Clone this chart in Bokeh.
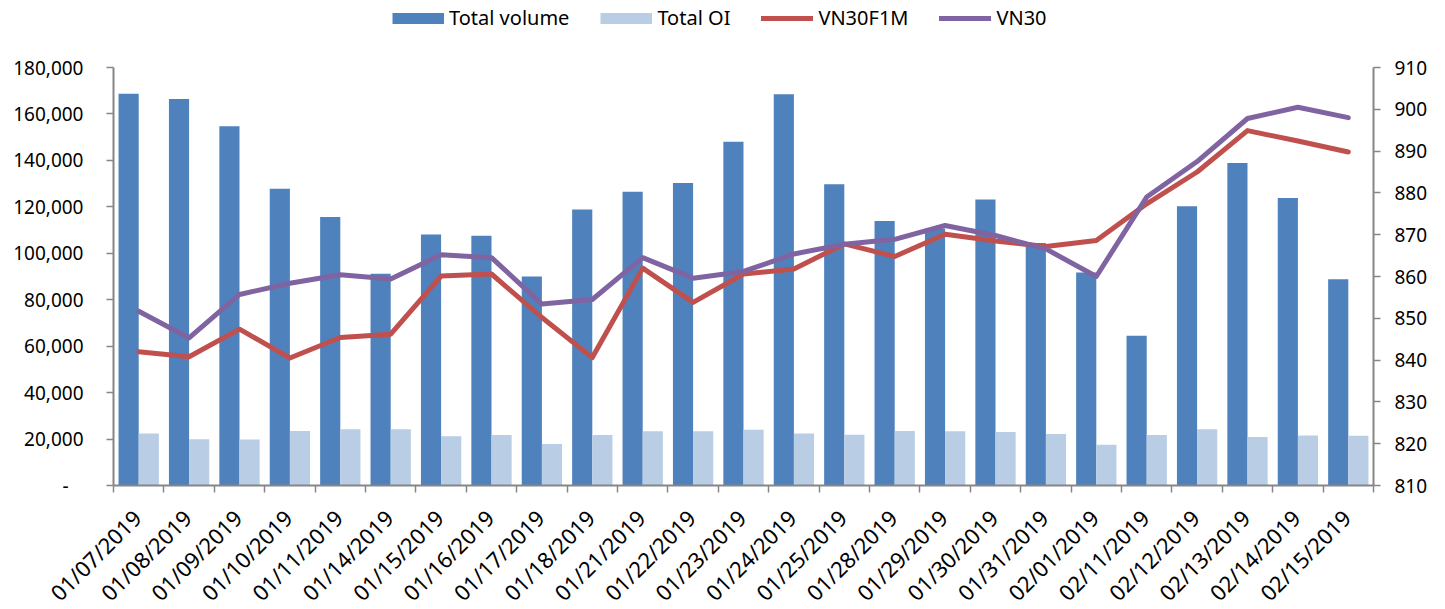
import math
import numpy as np
from bokeh.plotting import figure
from bokeh.models import (Range1d, LinearAxis, FixedTicker, Legend, LegendItem,
                          NumeralTickFormatter, ColumnDataSource)
from bokeh.core.properties import value
from bokeh.embed import file_html
from bokeh.resources import INLINE

dates = ["01/07/2019", "01/08/2019", "01/09/2019", "01/10/2019", "01/11/2019",
         "01/14/2019", "01/15/2019", "01/16/2019", "01/17/2019", "01/18/2019",
         "01/21/2019", "01/22/2019", "01/23/2019", "01/24/2019", "01/25/2019",
         "01/28/2019", "01/29/2019", "01/30/2019", "01/31/2019", "02/01/2019",
         "02/11/2019", "02/12/2019", "02/13/2019", "02/14/2019", "02/15/2019"]
total_volume = [168700, 166400, 154700, 127800, 115600, 91200, 108100, 107600, 90000, 118800,
                126500, 130300, 148000, 168500, 129700, 113900, 110700, 123200, 104400, 91700,
                64500, 120200, 138900, 123800, 88800]
total_oi = [22400, 19900, 19800, 23500, 24200, 24200, 21200, 21800, 17900, 21800,
            23400, 23400, 24000, 22400, 21900, 23500, 23400, 23000, 22200, 17500,
            21800, 24200, 20900, 21500, 21400]
vn30f1m = [842.0, 840.8, 847.4, 840.5, 845.4, 846.2, 860.1, 860.6, 850.2, 840.6,
           862.0, 853.8, 860.6, 861.8, 867.8, 864.8, 870.1, 868.5, 867.2, 868.6,
           877.4, 885.0, 894.9, 892.4, 889.8]
vn30 = [851.7, 845.3, 855.7, 858.4, 860.4, 859.4, 865.2, 864.5, 853.4, 854.5,
        864.5, 859.6, 861.2, 865.4, 867.7, 868.9, 872.2, 869.8, 866.6, 860.0,
        879.0, 887.5, 897.8, 900.5, 898.0]
left_ticks = list(range(0, 180001, 20000))
right_ticks = list(range(810, 911, 10))
left_min, left_max = 0, 180000
right_min, right_max = 810, 910

FONT = "Noto Sans"
AXC = "#868686"
C_VOL, C_OI, C_F, C_V = "#4F81BD", "#B9CDE5", "#C0504D", "#8064A2"

# layout (pixels): frame reaches the top of the canvas so the legend sits inside it;
# the axes are bounded to their data ranges, which fill the lower PLOT_H pixels.
W = 1437
BL, BR = 113, 64
FRAME_H = 485
PLOT_H = 418
AX_B = 16
LAB_H = 106
LAB_TOP = 12          # label anchor, pixels below the top of the label strip
ext = FRAME_H / PLOT_H

n = len(dates)
idx = np.arange(n)
src = ColumnDataSource(dict(xv=idx + 0.3, xo=idx + 0.7, xm=idx + 0.5,
                            vol=total_volume, oi=total_oi, f1m=vn30f1m, vn=vn30))

p = figure(width=W, height=FRAME_H + AX_B, x_range=Range1d(0, n),
           y_range=Range1d(left_min, left_min + (left_max - left_min) * ext),
           output_backend="svg", toolbar_location=None,
           min_border_left=BL, min_border_right=BR, min_border_top=0, min_border_bottom=AX_B)
p.extra_y_ranges = {"idx": Range1d(right_min, right_min + (right_max - right_min) * ext)}
p.xgrid.visible = False
p.ygrid.visible = False
p.outline_line_color = None

p.vbar(x="xv", top="vol", width=0.4, bottom=0, fill_color=C_VOL, line_color=None, source=src)
p.vbar(x="xo", top="oi", width=0.4, bottom=0, fill_color=C_OI, line_color=None, source=src)
r_f = p.line(x="xm", y="f1m", y_range_name="idx", line_width=5, line_color=C_F,
             line_cap="round", line_join="round", source=src)
r_v = p.line(x="xm", y="vn", y_range_name="idx", line_width=5, line_color=C_V,
             line_cap="round", line_join="round", source=src)
# legend swatches for the bar series (single point: draws nothing in the plot)
leg_vol = p.line(x=[0], y=[0], line_width=11, line_color=C_VOL, line_cap="butt")
leg_oi = p.line(x=[0], y=[0], line_width=11, line_color=C_OI, line_cap="butt")

# x axis: tick marks at category boundaries only; date labels drawn in the strip below
xa = p.xaxis[0]
xa.ticker = FixedTicker(ticks=[], minor_ticks=list(range(n + 1)))
xa.major_label_standoff = 0
xa.major_tick_out = 0
xa.major_tick_in = 0
xa.minor_tick_out = 7
xa.minor_tick_in = 0
xa.minor_tick_line_color = AXC
xa.minor_tick_line_width = 1.5
xa.axis_line_color = AXC
xa.axis_line_width = 2

# left axis
ya = p.yaxis[0]
ya.ticker = FixedTicker(ticks=left_ticks)
ya.bounds = (left_min, left_max)
ya.formatter = NumeralTickFormatter(format="0,0")
ya.major_label_overrides = {0: "-\u00a0\u00a0\u00a0"}
ya.minor_tick_out = 0
ya.minor_tick_in = 0
ya.major_tick_out = 7
ya.major_tick_in = 0
ya.major_tick_line_color = AXC
ya.major_tick_line_width = 1.5
ya.axis_line_color = AXC
ya.axis_line_width = 2
ya.major_label_text_font = FONT
ya.major_label_text_font_size = "19px"
ya.major_label_text_color = "black"
ya.major_label_standoff = 23

# right axis
ra = LinearAxis(y_range_name="idx", ticker=FixedTicker(ticks=right_ticks),
                bounds=(right_min, right_max))
ra.minor_tick_out = 0
ra.minor_tick_in = 0
ra.major_tick_out = 7
ra.major_tick_in = 0
ra.major_tick_line_color = AXC
ra.major_tick_line_width = 1.5
ra.axis_line_color = AXC
ra.axis_line_width = 2
ra.major_label_text_font = FONT
ra.major_label_text_font_size = "19px"
ra.major_label_text_color = "black"
ra.major_label_standoff = 14
p.add_layout(ra, "right")

legend = Legend(items=[LegendItem(label="Total volume", renderers=[leg_vol]),
                       LegendItem(label="Total OI", renderers=[leg_oi]),
                       LegendItem(label="VN30F1M", renderers=[r_f]),
                       LegendItem(label="VN30", renderers=[r_v])],
                orientation="horizontal", location=(279, 454))
legend.label_text_font = FONT
legend.label_text_font_size = "20px"
legend.label_text_color = "black"
legend.glyph_width = 52
legend.glyph_height = 14
legend.label_standoff = 5
legend.spacing = 31
legend.padding = 0
legend.margin = 0
legend.border_line_color = None
legend.background_fill_alpha = 0
p.add_layout(legend, "center")

# full-width strip below the chart (separate root, so its frame is not aligned to the
# chart's frame) holding the rotated category labels; its x range is widened so that
# the categories line up with the chart above
cw = (W - BL - BR) / n
q = figure(width=W, height=LAB_H,
           x_range=Range1d(-BL / cw, n + BR / cw), y_range=Range1d(0, LAB_H),
           x_axis_type=None, y_axis_type=None, output_backend="svg", toolbar_location=None,
           min_border_left=0, min_border_right=0, min_border_top=0, min_border_bottom=0)
q.xgrid.visible = False
q.ygrid.visible = False
q.outline_line_color = None
lab_src = ColumnDataSource(dict(x=idx + 0.5, y=[LAB_H - LAB_TOP] * n, t=dates))
q.text(x="x", y="y", text="t", source=lab_src, angle=math.pi / 4, x_offset=-2,
       text_align="right", text_baseline="middle", text_font=value(FONT),
       text_font_size="22px", text_color="black")

open("out.html", "w").write(file_html([p, q], INLINE))
